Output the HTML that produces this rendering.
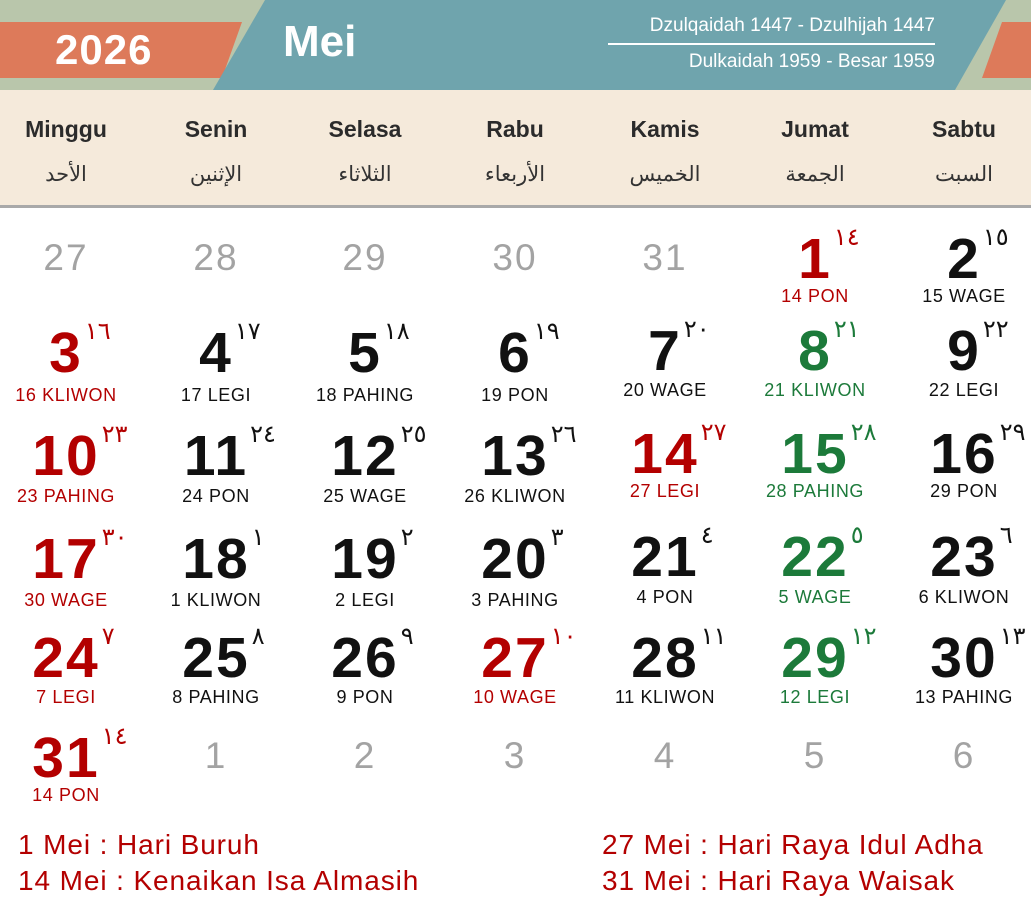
<!DOCTYPE html>
<html><head><meta charset="utf-8"><style>
body{margin:0;width:1031px;height:898px;background:#fff;position:relative;overflow:hidden;font-family:"Liberation Sans",sans-serif}
.a{position:absolute}
.h{position:absolute;width:150px;text-align:center;font-weight:bold;font-size:23px;color:#2b2b2b;top:116px}
.ar{position:absolute;width:150px;text-align:center;font-family:"DejaVu Serif",serif;font-size:21px;color:#333;top:162px}
.n{position:absolute;width:150px;text-align:center;font-size:57px;line-height:56px;font-weight:bold;color:#111;letter-spacing:2px}
.n span{position:relative;display:inline-block}
.n sup{position:absolute;left:100%;top:-6px;font-size:24px;line-height:24px;font-weight:normal;font-family:"DejaVu Sans",sans-serif;margin-left:2px;white-space:nowrap;letter-spacing:0}
.g{color:#a3a3a3;font-weight:normal;font-size:37px}
.l{position:absolute;width:150px;text-align:center;font-size:18px;line-height:18px;color:#111;letter-spacing:0.6px}
.r{color:#b30000}.gr{color:#1c7a3a}
.f{position:absolute;font-size:28px;color:#b30000;letter-spacing:0.9px}
</style></head><body>
<div class="a" style="left:0;top:0;width:1031px;height:90px;background:#b9c6ab"></div>
<svg class="a" style="left:0;top:0" width="1031" height="92">
<polygon points="0,22 242,22 222,78 0,78" fill="#dd7a5a"/>
<polygon points="265,0 1006,0 955,90 213,90" fill="#6fa4ad"/>
<polygon points="1002,22 1031,22 1031,78 982,78" fill="#dd7a5a"/>
<line x1="608" y1="44" x2="935" y2="44" stroke="#fff" stroke-width="2"/>
</svg>
<div class="a" style="left:55px;top:26px;font-size:42px;font-weight:bold;color:#fff;letter-spacing:1px">2026</div>
<div class="a" style="left:283px;top:17px;font-size:44px;font-weight:bold;color:#fff">Mei</div>
<div class="a" style="right:96px;top:15px;font-size:19px;color:#fff">Dzulqaidah 1447 - Dzulhijah 1447</div>
<div class="a" style="right:96px;top:51px;font-size:19px;color:#fff">Dulkaidah 1959 - Besar 1959</div>
<div class="a" style="left:0;top:90px;width:1031px;height:115px;background:#f5eadb"></div>
<div class="a" style="left:0;top:205px;width:1031px;height:3px;background:#a9a9a9"></div>
<div class="h" style="left:-9px">Minggu</div><div class="h" style="left:141px">Senin</div><div class="h" style="left:290px">Selasa</div><div class="h" style="left:440px">Rabu</div><div class="h" style="left:590px">Kamis</div><div class="h" style="left:740px">Jumat</div><div class="h" style="left:889px">Sabtu</div>
<div class="ar" style="left:-9px">الأحد</div><div class="ar" style="left:141px">الإثنين</div><div class="ar" style="left:290px">الثلاثاء</div><div class="ar" style="left:440px">الأربعاء</div><div class="ar" style="left:590px">الخميس</div><div class="ar" style="left:740px">الجمعة</div><div class="ar" style="left:889px">السبت</div>

<div class="n g" style="left:-9px;top:230px">27</div><div class="n g" style="left:141px;top:230px">28</div><div class="n g" style="left:290px;top:230px">29</div><div class="n g" style="left:440px;top:230px">30</div><div class="n g" style="left:590px;top:230px">31</div>
<div class="n r" style="left:740px;top:231px"><span>1<sup>١٤</sup></span></div><div class="l r" style="left:740px;top:287px">14 PON</div>
<div class="n" style="left:889px;top:231px"><span>2<sup>١٥</sup></span></div><div class="l" style="left:889px;top:287px">15 WAGE</div>

<div class="n r" style="left:-9px;top:325px"><span>3<sup>١٦</sup></span></div><div class="l r" style="left:-9px;top:386px">16 KLIWON</div>
<div class="n" style="left:141px;top:325px"><span>4<sup>١٧</sup></span></div><div class="l" style="left:141px;top:386px">17 LEGI</div>
<div class="n" style="left:290px;top:325px"><span>5<sup>١٨</sup></span></div><div class="l" style="left:290px;top:386px">18 PAHING</div>
<div class="n" style="left:440px;top:325px"><span>6<sup>١٩</sup></span></div><div class="l" style="left:440px;top:386px">19 PON</div>
<div class="n" style="left:590px;top:323px"><span>7<sup>٢٠</sup></span></div><div class="l" style="left:590px;top:381px">20 WAGE</div>
<div class="n gr" style="left:740px;top:323px"><span>8<sup>٢١</sup></span></div><div class="l gr" style="left:740px;top:381px">21 KLIWON</div>
<div class="n" style="left:889px;top:323px"><span>9<sup>٢٢</sup></span></div><div class="l" style="left:889px;top:381px">22 LEGI</div>

<div class="n r" style="left:-9px;top:428px"><span>10<sup>٢٣</sup></span></div><div class="l r" style="left:-9px;top:487px">23 PAHING</div>
<div class="n" style="left:141px;top:428px"><span>11<sup>٢٤</sup></span></div><div class="l" style="left:141px;top:487px">24 PON</div>
<div class="n" style="left:290px;top:428px"><span>12<sup>٢٥</sup></span></div><div class="l" style="left:290px;top:487px">25 WAGE</div>
<div class="n" style="left:440px;top:428px"><span>13<sup>٢٦</sup></span></div><div class="l" style="left:440px;top:487px">26 KLIWON</div>
<div class="n r" style="left:590px;top:426px"><span>14<sup>٢٧</sup></span></div><div class="l r" style="left:590px;top:482px">27 LEGI</div>
<div class="n gr" style="left:740px;top:426px"><span>15<sup>٢٨</sup></span></div><div class="l gr" style="left:740px;top:482px">28 PAHING</div>
<div class="n" style="left:889px;top:426px"><span>16<sup>٢٩</sup></span></div><div class="l" style="left:889px;top:482px">29 PON</div>

<div class="n r" style="left:-9px;top:531px"><span>17<sup>٣٠</sup></span></div><div class="l r" style="left:-9px;top:591px">30 WAGE</div>
<div class="n" style="left:141px;top:531px"><span>18<sup>١</sup></span></div><div class="l" style="left:141px;top:591px">1 KLIWON</div>
<div class="n" style="left:290px;top:531px"><span>19<sup>٢</sup></span></div><div class="l" style="left:290px;top:591px">2 LEGI</div>
<div class="n" style="left:440px;top:531px"><span>20<sup>٣</sup></span></div><div class="l" style="left:440px;top:591px">3 PAHING</div>
<div class="n" style="left:590px;top:529px"><span>21<sup>٤</sup></span></div><div class="l" style="left:590px;top:588px">4 PON</div>
<div class="n gr" style="left:740px;top:529px"><span>22<sup>٥</sup></span></div><div class="l gr" style="left:740px;top:588px">5 WAGE</div>
<div class="n" style="left:889px;top:529px"><span>23<sup>٦</sup></span></div><div class="l" style="left:889px;top:588px">6 KLIWON</div>

<div class="n r" style="left:-9px;top:630px"><span>24<sup>٧</sup></span></div><div class="l r" style="left:-9px;top:688px">7 LEGI</div>
<div class="n" style="left:141px;top:630px"><span>25<sup>٨</sup></span></div><div class="l" style="left:141px;top:688px">8 PAHING</div>
<div class="n" style="left:290px;top:630px"><span>26<sup>٩</sup></span></div><div class="l" style="left:290px;top:688px">9 PON</div>
<div class="n r" style="left:440px;top:630px"><span>27<sup>١٠</sup></span></div><div class="l r" style="left:440px;top:688px">10 WAGE</div>
<div class="n" style="left:590px;top:630px"><span>28<sup>١١</sup></span></div><div class="l" style="left:590px;top:688px">11 KLIWON</div>
<div class="n gr" style="left:740px;top:630px"><span>29<sup>١٢</sup></span></div><div class="l gr" style="left:740px;top:688px">12 LEGI</div>
<div class="n" style="left:889px;top:630px"><span>30<sup>١٣</sup></span></div><div class="l" style="left:889px;top:688px">13 PAHING</div>

<div class="n r" style="left:-9px;top:730px"><span>31<sup>١٤</sup></span></div><div class="l r" style="left:-9px;top:786px">14 PON</div>
<div class="n g" style="left:141px;top:728px">1</div><div class="n g" style="left:290px;top:728px">2</div><div class="n g" style="left:440px;top:728px">3</div><div class="n g" style="left:590px;top:728px">4</div><div class="n g" style="left:740px;top:728px">5</div><div class="n g" style="left:889px;top:728px">6</div>

<div class="f" style="left:18px;top:829px">1 Mei : Hari Buruh</div>
<div class="f" style="left:18px;top:865px">14 Mei : Kenaikan Isa Almasih</div>
<div class="f" style="left:602px;top:829px">27 Mei : Hari Raya Idul Adha</div>
<div class="f" style="left:602px;top:865px">31 Mei : Hari Raya Waisak</div>
</body></html>
